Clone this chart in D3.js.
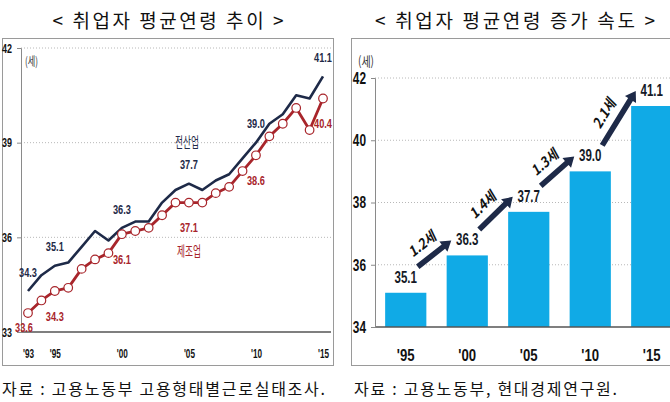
<!DOCTYPE html>
<html><head><meta charset="utf-8">
<script src="https://cdn.jsdelivr.net/npm/d3@7"></script>
<style>
body{margin:0;background:#fff;}
svg{display:block;}
</style></head><body>
<svg id="c" width="670" height="402"></svg>
<script>
// ---------- data ----------
const years = [1993,1994,1995,1996,1997,1998,1999,2000,2001,2002,2003,2004,2005,2006,2007,2008,2009,2010,2011,2012,2013,2014,2015];
const allIndustry = [34.3,34.8,35.1,35.2,35.7,36.2,35.9,36.3,36.5,36.5,37.1,37.5,37.7,37.5,37.8,38.0,38.5,39.0,39.6,39.9,40.5,40.4,41.1];
const manufacturing = [33.6,34.0,34.3,34.4,35.0,35.3,35.5,36.1,36.2,36.3,36.7,37.1,37.1,37.1,37.4,37.6,38.1,38.6,39.2,39.6,40.1,39.4,40.4];
const labelYears = [1993,1995,2000,2005,2010,2015];
const leftTickYears = [1993,1995,2000,2005,2010,2015];
const leftTickLabels = ["'93","'95","'00","'05","'10","'15"];
const leftYTicks = [33,36,39,42];

const barCats = ["'95","'00","'05","'10","'15"];
const barVals = [35.1,36.3,37.7,39.0,41.1];
const incLabels = ["1.2세","1.4세","1.3세","2.1세"];
const rightYTicks = [34,36,38,40,42];

const titleLeft = "< 취업자 평균연령 추이 >";
const titleRight = "< 취업자 평균연령 증가 속도 >";
const srcLeft = "자료 : 고용노동부 고용형태별근로실태조사.";
const srcRight = "자료 : 고용노동부, 현대경제연구원.";
const unit = "(세)";
const nameAll = "전산업", nameMan = "제조업";

// ---------- styles ----------
const NAVY = "#1e2a48", RED = "#a8252b", BLUE = "#10aae6";
const KR = "'Noto Sans CJK KR', sans-serif";
const NUM = "'Liberation Sans', Arial, sans-serif";

const svg = d3.select("#c");
function fit(sel, perChar){
  sel.each(function(){
    const t = d3.select(this).text();
    const w = t.split("").reduce((s,c)=> s + (c==="." ? perChar*0.45 : c==="'" ? perChar*0.4 : /[가-힣]/.test(c) ? perChar*1.55 : perChar), 0);
    d3.select(this).attr("textLength", w).attr("lengthAdjust","spacingAndGlyphs");
  });
}

svg.append("rect").attr("x",2.5).attr("y",38.5).attr("width",331).attr("height",327)
  .attr("fill","none").attr("stroke","#9a9a9a");
svg.append("rect").attr("x",351.5).attr("y",38.5).attr("width",330).attr("height",327)
  .attr("fill","none").attr("stroke","#9a9a9a");

svg.append("text").attr("x",168).attr("y",28).attr("text-anchor","middle")
  .attr("font-family",KR).attr("font-size",19).attr("fill","#111")
  .attr("textLength",231).attr("lengthAdjust","spacing").text(titleLeft);
svg.append("text").attr("x",515).attr("y",28).attr("text-anchor","middle")
  .attr("font-family",KR).attr("font-size",19).attr("fill","#111")
  .attr("textLength",280).attr("lengthAdjust","spacing").text(titleRight);

svg.append("text").attr("x",2).attr("y",395)
  .attr("font-family",KR).attr("font-size",16).attr("fill","#111")
  .attr("textLength",323).attr("lengthAdjust","spacing").text(srcLeft);
svg.append("text").attr("x",354).attr("y",395)
  .attr("font-family",KR).attr("font-size",16).attr("fill","#111")
  .attr("textLength",263).attr("lengthAdjust","spacing").text(srcRight);

// ---------- left chart ----------
const xL = d3.scaleLinear().domain([1993,2015]).range([28,323]);
const yL = d3.scaleLinear().domain([33,42]).range([332,48]);
const axL = 21, rightL = 331;
const gL = svg.append("g");

gL.selectAll("line.grid").data(leftYTicks.filter(d=>d>33)).join("line")
  .attr("x1",axL).attr("x2",rightL).attr("y1",d=>yL(d)).attr("y2",d=>yL(d))
  .attr("stroke","#b8b8b8").attr("stroke-dasharray","1,2");
gL.append("line").attr("x1",axL).attr("x2",rightL).attr("y1",yL(33)).attr("y2",yL(33))
  .attr("stroke","#555").attr("stroke-width",1.5);

const yAxisL = gL.append("g").attr("transform",`translate(${axL},0)`)
  .call(d3.axisLeft(yL).tickValues(leftYTicks).tickSize(4).tickPadding(5).tickFormat(d3.format("d")));
yAxisL.select(".domain").attr("stroke","#8a8a8a");
yAxisL.selectAll(".tick line").attr("stroke","#8a8a8a");
yAxisL.selectAll("text").attr("font-family",NUM).attr("font-weight","bold").attr("font-size",13.5).attr("fill","#111").call(fit,5);

const xAxisL = gL.append("g").attr("transform",`translate(0,${yL(33)})`)
  .call(d3.axisBottom(xL).tickValues(leftTickYears).tickSize(0).tickPadding(16)
    .tickFormat((d,i)=>leftTickLabels[i]));
xAxisL.select(".domain").remove();
xAxisL.selectAll("text").attr("font-family",NUM).attr("font-weight","bold").attr("font-size",13.5).attr("fill","#111").call(fit,4.6);

gL.append("text").attr("x",25).attr("y",66).attr("font-family",KR).attr("font-size",12)
  .attr("fill","#333").attr("textLength",13).attr("lengthAdjust","spacingAndGlyphs").text(unit);

const lineGen = arr => d3.line().x((d,i)=>xL(years[i])).y(d=>yL(d))(arr);
gL.append("path").attr("d",lineGen(allIndustry)).attr("fill","none")
  .attr("stroke",NAVY).attr("stroke-width",2.6).attr("stroke-linejoin","round");
gL.append("path").attr("d",lineGen(manufacturing)).attr("fill","none")
  .attr("stroke",RED).attr("stroke-width",2.8).attr("stroke-linejoin","round");
gL.selectAll("circle.m").data(manufacturing).join("circle")
  .attr("cx",(d,i)=>xL(years[i])).attr("cy",d=>yL(d)).attr("r",4.3)
  .attr("fill","#fff").attr("stroke",RED).attr("stroke-width",1.2);

labelYears.forEach((yr,k)=>{
  const i = years.indexOf(yr);
  const x = xL(yr);
  gL.append("text").attr("x",x).attr("y",yL(allIndustry[i])-19).attr("dy","0.35em")
    .attr("text-anchor","middle").attr("font-family",NUM).attr("font-weight","bold")
    .attr("font-size",13.5).attr("fill",NAVY).text(allIndustry[i].toFixed(1)).call(fit,5.2);
  gL.append("text").attr("x",x-(k===0?4:0)).attr("y",Math.min(yL(manufacturing[i])+25,yL(33)-5)).attr("dy","0.35em")
    .attr("text-anchor","middle").attr("font-family",NUM).attr("font-weight","bold")
    .attr("font-size",13.5).attr("fill",RED).text(manufacturing[i].toFixed(1)).call(fit,5.2);
});
const i05 = years.indexOf(2005);
gL.append("text").attr("x",xL(2005)-2).attr("y",yL(allIndustry[i05])-41).attr("dy","0.35em")
  .attr("text-anchor","middle").attr("font-family",KR).attr("font-size",13.5)
  .attr("textLength",24).attr("lengthAdjust","spacingAndGlyphs").attr("fill",NAVY).text(nameAll);
gL.append("text").attr("x",xL(2005)).attr("y",yL(manufacturing[i05])+49).attr("dy","0.35em")
  .attr("text-anchor","middle").attr("font-family",KR).attr("font-size",13.5)
  .attr("textLength",24).attr("lengthAdjust","spacingAndGlyphs").attr("fill",RED).text(nameMan);

// ---------- right chart ----------
const axR = 375;
const xR = d3.scaleBand().domain(barCats).range([axR,682.5]).paddingInner(0.33).paddingOuter(0.165);
const yR = d3.scaleLinear().domain([34,42]).range([327,78]);
const gR = svg.append("g");

gR.selectAll("line.grid").data(rightYTicks.filter(d=>d>34)).join("line")
  .attr("x1",axR).attr("x2",670).attr("y1",d=>yR(d)).attr("y2",d=>yR(d))
  .attr("stroke","#b8b8b8").attr("stroke-dasharray","1,2");

gR.selectAll("rect.bar").data(barVals).join("rect")
  .attr("x",(d,i)=>xR(barCats[i])).attr("width",xR.bandwidth())
  .attr("y",d=>yR(d)).attr("height",d=>yR(34)-yR(d)).attr("fill",BLUE);

gR.append("line").attr("x1",axR).attr("x2",670).attr("y1",yR(34)).attr("y2",yR(34))
  .attr("stroke","#555").attr("stroke-width",1.5);

const yAxisR = gR.append("g").attr("transform",`translate(${axR},0)`)
  .call(d3.axisLeft(yR).tickValues(rightYTicks).tickSize(4).tickPadding(5).tickFormat(d3.format("d")));
yAxisR.select(".domain").attr("stroke","#8a8a8a");
yAxisR.selectAll(".tick line").attr("stroke","#8a8a8a");
yAxisR.selectAll("text").attr("font-family",NUM).attr("font-weight","bold").attr("font-size",17).attr("fill","#111").call(fit,6.6);

const xAxisR = gR.append("g").attr("transform",`translate(0,${yR(34)})`)
  .call(d3.axisBottom(xR).tickSize(0).tickPadding(22));
xAxisR.select(".domain").remove();
xAxisR.selectAll("text").attr("font-family",NUM).attr("font-weight","bold").attr("font-size",17).attr("fill","#111").call(fit,7.4);

gR.append("text").attr("x",358).attr("y",66).attr("font-family",KR).attr("font-size",13)
  .attr("fill","#333").attr("textLength",16).attr("lengthAdjust","spacingAndGlyphs").text(unit);

gR.selectAll("text.val").data(barVals).join("text")
  .attr("x",(d,i)=>xR(barCats[i])+xR.bandwidth()/2).attr("y",d=>yR(d)-16).attr("dy","0.35em")
  .attr("text-anchor","middle").attr("font-family",NUM).attr("font-weight","bold")
  .attr("font-size",17).attr("fill","#151a26").text(d=>d.toFixed(1)).call(fit,6.5);

incLabels.forEach((lab,i)=>{
  const cx0 = xR(barCats[i])+xR.bandwidth()/2, cx1 = xR(barCats[i+1])+xR.bandwidth()/2;
  const sx = cx0+12, sy = yR(barVals[i])-26;
  const ex = cx1-16, ey = yR(barVals[i+1])-15;
  const L = Math.hypot(ex-sx, ey-sy);
  const ux=(ex-sx)/L, uy=(ey-sy)/L, nx=-uy, ny=ux;
  const w=2.8, hw=6.5, hl=10;
  const hx=ex-ux*hl, hy=ey-uy*hl;
  const pts=[[sx+nx*w,sy+ny*w],[hx+nx*w,hy+ny*w],[hx+nx*hw,hy+ny*hw],[ex,ey],
             [hx-nx*hw,hy-ny*hw],[hx-nx*w,hy-ny*w],[sx-nx*w,sy-ny*w]];
  gR.append("polygon").attr("points",pts.map(p=>p.join(",")).join(" ")).attr("fill",NAVY);
  const mx=(sx+ex)/2 - nx*15 - ux*4, my=(sy+ey)/2 - ny*15 - uy*4;
  const ang=Math.atan2(uy,ux)*180/Math.PI;
  gR.append("text").attr("transform",`translate(${mx},${my}) rotate(${ang})`)
    .attr("dy","0.35em").attr("text-anchor","middle")
    .attr("font-family",KR).attr("font-weight","bold").attr("font-style","italic")
    .attr("font-size",14).attr("fill","#111")
    .attr("textLength",31).attr("lengthAdjust","spacingAndGlyphs").text(lab);
});
</script>
</body></html>
